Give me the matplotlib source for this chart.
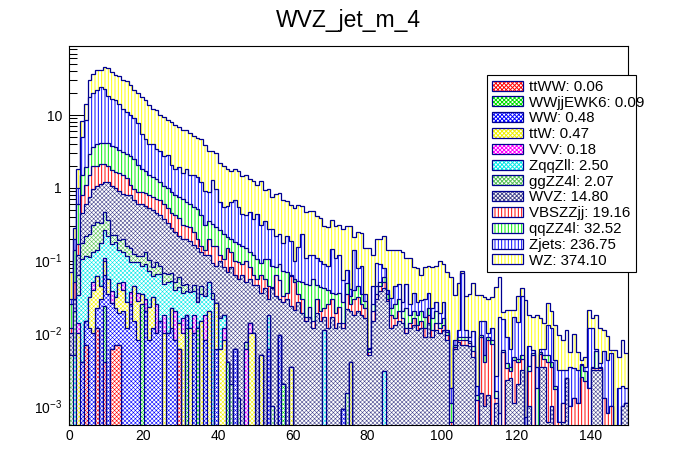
import numpy as np
import matplotlib
matplotlib.use("Agg")
import matplotlib.pyplot as plt
from matplotlib.patches import Rectangle
from matplotlib.ticker import FixedLocator, LogLocator, MultipleLocator, NullFormatter

plt.rcParams['font.family'] = ['Liberation Sans', 'DejaVu Sans']
plt.rcParams['mathtext.fontset'] = 'custom'
plt.rcParams['mathtext.rm'] = 'Liberation Sans'
plt.rcParams['mathtext.default'] = 'regular'

# 150 bins of width 1 between 0 and 150
n_bins = 150
x_edges = np.arange(0, n_bins + 1)

# processes, bottom of the stack first (same order as the legend)
names = ['ttWW', 'WWjjEWK6', 'WW', 'ttW', 'VVV', 'ZqqZll', 'ggZZ4l', 'WVZ',
         'VBSZZjj', 'qqZZ4l', 'Zjets', 'WZ']
yields = [0.06, 0.09, 0.48, 0.47, 0.18, 2.50, 2.07, 14.80, 19.16, 32.52, 236.75, 374.10]

# small samples, only the non-empty bins {bin: content}
ttWW = {4: 0.007, 7: 0.012, 9: 0.004, 11: 0.006, 12: 0.007, 13: 0.007, 29: 0.006}
WWjjEWK6 = {9: 0.02, 19: 0.025, 31: 0.012, 34: 0.012, 42: 0.004, 57: 0.002}
WW = {3: 0.004, 4: 0.008, 5: 0.012, 6: 0.01, 7: 0.01, 8: 0.03, 9: 0.04, 10: 0.035,
      11: 0.02, 12: 0.015, 13: 0.012, 14: 0.02, 15: 0.012, 16: 0.025, 17: 0.015,
      18: 0.008, 20: 0.02, 21: 0.008, 22: 0.012, 23: 0.01, 24: 0.015, 26: 0.01,
      27: 0.012, 28: 0.008, 31: 0.006, 33: 0.01, 36: 0.008, 39: 0.006, 44: 0.006,
      53: 0.006, 56: 0.0096, 73: 0.0009}
ttW = {2: 0.01, 5: 0.02, 6: 0.03, 7: 0.04, 8: 0.015, 9: 0.035, 10: 0.02, 12: 0.01,
       13: 0.03, 14: 0.02, 15: 0.015, 17: 0.03, 18: 0.02, 19: 0.01, 21: 0.015,
       22: 0.02, 25: 0.01, 27: 0.01, 29: 0.008, 30: 0.01, 32: 0.012, 35: 0.015,
       37: 0.02, 39: 0.02, 40: 0.006, 41: 0.008, 48: 0.01, 49: 0.01, 51: 0.005,
       59: 0.0035, 75: 0.004}
VVV = {2: 0.004, 6: 0.01, 9: 0.008, 11: 0.012, 14: 0.01, 16: 0.012, 18: 0.008,
       20: 0.01, 23: 0.015, 25: 0.008, 28: 0.012, 30: 0.006, 33: 0.008, 36: 0.01,
       41: 0.004, 47: 0.006, 48: 0.004}
ZqqZll = {1: 0.005, 2: 0.02, 3: 0.1, 4: 0.1, 5: 0.08, 6: 0.08, 7: 0.08, 8: 0.13,
          9: 0.16, 10: 0.16, 11: 0.13, 12: 0.15, 13: 0.09, 14: 0.08, 15: 0.09,
          16: 0.06, 17: 0.05, 18: 0.06, 19: 0.05, 20: 0.06, 21: 0.05, 22: 0.03,
          23: 0.04, 24: 0.05, 25: 0.03, 26: 0.04, 27: 0.03, 28: 0.02, 29: 0.03,
          30: 0.02, 31: 0.02, 32: 0.025, 33: 0.02, 34: 0.015, 35: 0.02, 36: 0.015,
          37: 0.03, 38: 0.03, 40: 0.01, 41: 0.006, 53: 0.012, 68: 0.011, 84: 0.003}
ggZZ4l = {0: 0.005, 1: 0.015, 2: 0.03, 3: 0.07, 4: 0.1, 5: 0.12, 6: 0.18, 7: 0.2,
          8: 0.15, 9: 0.2, 10: 0.15, 11: 0.06, 12: 0.04, 13: 0.05, 14: 0.07,
          15: 0.04, 16: 0.05, 17: 0.03, 18: 0.02, 19: 0.03, 20: 0.04, 21: 0.03,
          22: 0.02, 23: 0.03, 24: 0.02, 25: 0.02, 26: 0.015, 27: 0.015, 28: 0.01,
          29: 0.015, 30: 0.01, 31: 0.01, 33: 0.008, 35: 0.01, 38: 0.006, 43: 0.002,
          45: 0.0013, 47: 0.0017, 54: 0.001, 74: 0.0015}

# large samples, every bin
WVZ = [0.005, 0.01, 0.056, 0.28, 0.39, 0.52, 0.64, 0.71, 0.8, 0.73,
       0.84, 0.82, 0.78, 0.71, 0.62, 0.64, 0.65, 0.56, 0.49, 0.49,
       0.44, 0.43, 0.42, 0.36, 0.34, 0.31, 0.26, 0.21, 0.2, 0.16,
       0.15, 0.15, 0.15, 0.12, 0.12, 0.085, 0.087,
       0.07, 0.058, 0.059, 0.084, 0.063, 0.065, 0.079, 0.057, 0.054, 0.063,
       0.043, 0.041, 0.036, 0.046, 0.031, 0.042, 0.012, 0.041, 0.033, 0.02,
       0.025, 0.03, 0.02, 0.021, 0.027, 0.019, 0.015, 0.017, 0.012, 0.019,
       0.015, 0.006, 0.012, 0.017, 0.012, 0.014, 0.011,
       0.02, 0.016, 0.018, 0.02, 0.018, 0.016, 0.005, 0.015, 0.03, 0.038,
       0.039, 0.028, 0.012, 0.013, 0.015, 0.014, 0.01, 0.012, 0.013, 0.011,
       0.012, 0.009, 0.014, 0.009, 0.011, 0.01, 0.011, 0.008, 0, 0.006,
       0.0075, 0.007, 0.007, 0.0068, 0.0048, 0, 0.0015, 0.001, 0.0014, 0,
       0.0011, 0, 0, 0.0023, 0.0024, 0.0011, 0.002, 0.0031, 0, 0.001,
       0, 0, 0.0034, 0.0035, 0.0006, 0.001, 0, 0, 0.0006, 0.0024,
       0, 0, 0, 0, 0, 0, 0.0031, 0.0031, 0.0031, 0,
       0, 0, 0, 0, 0.001, 0.0011]
VBSZZjj = [0.002, 0.02, 0.05, 0.35, 0.5, 0.75, 1.05, 0.95, 0.97, 0.9,
           0.8, 0.7, 0.65, 0.7, 0.68, 0.55, 0.3, 0.27, 0.27, 0.27,
           0.28, 0.27, 0.25, 0.25, 0.26, 0.22, 0.2, 0.17, 0.17, 0.16,
           0.11, 0.1, 0.1, 0.08, 0.05, 0.03, 0.02,
           0.08, 0.066, 0.075, 0.02, 0.024, 0.081, 0.049, 0.037, 0.039, 0.027,
           0.049, 0.026, 0.017, 0.009, 0.027, 0.013, 0.015, 0.002, 0.03, 0.025,
           0.006, 0.006, 0.037, 0.029, 0.008, 0.011, 0.002, 0.006, 0.003, 0.011,
           0.005, 0.005, 0.013, 0.013, 0.007, 0.009, 0.002,
           0.013, 0.005, 0.012, 0.012, 0.007, 0.006, 0.0005, 0.005, 0.005, 0.007,
           0.008, 0.002, 0.006, 0.003, 0.005, 0.002, 0.002, 0.002, 0.003, 0.002,
           0.003, 0.003, 0.004, 0.002, 0.003, 0.002, 0.002, 0.0015, 0.0006, 0.0005,
           0.0005, 0.001, 0.001, 0.0005, 0.001, 0.0012, 0.0075, 0.003, 0.0066, 0.0072,
           0.0002, 0.0005, 0.0056, 0.001, 0.0006, 0.0032, 0.002, 0.0014, 0, 0.002,
           0.005, 0, 0.0018, 0.001, 0.0034, 0.0025, 0.0017, 0.0006, 0.0005, 0,
           0.001, 0.0013, 0.0011, 0.0025, 0.0022, 0.0018, 0.0002, 0.0002, 0.0002, 0.0013,
           0.0008, 0.001, 0, 0, 0, 0]
qqZZ4l = [0.013, 0.09, 0.43, 0.7, 0.8, 1.4, 1.6, 2.0, 2.0, 2.0,
          2.1, 2.05, 1.95, 1.7, 1.6, 1.55, 1.6, 1.55, 1.2, 0.93,
          0.85, 0.7, 0.65, 0.6, 0.52, 0.47, 0.48, 0.42, 0.38, 0.36,
          0.39, 0.34, 0.31, 0.3, 0.32, 0.26, 0.17,
          0.15, 0.16, 0.13, 0.14, 0.125, 0.06, 0.07, 0.08, 0.076, 0.07,
          0.05, 0.049, 0.057, 0.05, 0.031, 0.05, 0.06, 0.041, 0.018, 0.035,
          0.04, 0.033, 0.003, 0.005, 0.018, 0.021, 0.031, 0.023, 0.04, 0.016,
          0.024, 0.02, 0.015, 0.006, 0.016, 0.013, 0.013,
          0.015, 0.008, 0.01, 0.013, 0.01, 0.006, 0.0005, 0.005, 0.01, 0.005,
          0.01, 0.005, 0.004, 0.009, 0.01, 0.004, 0.01, 0.004, 0.004, 0.005,
          0.005, 0.005, 0.004, 0.005, 0.006, 0.002, 0.003, 0.001, 0.0005, 0.0005,
          0.001, 0.001, 0.001, 0.0005, 0.001, 0.0002, 0.0005, 0.001, 0.001, 0.0008,
          0.0003, 0.0003, 0.0003, 0.0006, 0.0005, 0.0005, 0.0005, 0.0005, 0, 0.0006,
          0.0004, 0.0018, 0.0003, 0.0005, 0.001, 0.0005, 0.0002, 0, 0, 0,
          0, 0, 0, 0.0012, 0.0008, 0, 0.0002, 0.0025, 0.0001, 0,
          0, 0, 0, 0, 0, 0]
Zjets = [0.005, 0.06, 0.4, 3.5, 6.6, 15, 16.4, 18, 20, 19,
         14, 13, 12.4, 10.7, 8.9, 8.1, 7.3, 6.5, 5.7, 3.7,
         3.0, 2.5, 2.6, 2.1, 2.0, 1.7, 1.8, 1.2, 1.0, 1.2,
         0.9, 1.2, 0.9, 0.95, 0.9, 0.8, 0.6,
         0.52, 0.98, 0.66, 0.37, 0.32, 0.35, 0.44, 0.49, 0.37, 0.28,
         0.27, 0.33, 0.25, 0.33, 0.21, 0.25, 0.17, 0.19, 0.14, 0.14,
         0.1, 0.15, 0.12, 0.045, 0.1, 0.18, 0.062, 0.074, 0.065, 0.064,
         0.056, 0.049, 0.043, 0.11, 0.075, 0.084, 0.028,
         0.025, 0.008, 0.1, 0.035, 0.05, 0.007, 0.0003, 0.02, 0.049, 0.04,
         0.02, 0.005, 0.009, 0.02, 0.017, 0.007, 0.026, 0.007, 0.016, 0.009,
         0.009, 0.013, 0.014, 0.006, 0.007, 0.005, 0.011, 0.0005, 0.0007, 0.001,
         0.002, 0.059, 0.002, 0.0012, 0.004, 0.0005, 0.0055, 0.01, 0.001, 0.004,
         0.001, 0.016, 0.01, 0.005, 0.0025, 0.012, 0.01, 0.028, 0.0007, 0.003,
         0.0005, 0.0016, 0.0005, 0.001, 0.008, 0.008, 0.0024, 0.0025, 0.002, 0.0007,
         0.0024, 0.002, 0.002, 0.0001, 0.0005, 0.0102, 0.0085, 0.0002, 0.0005, 0.0045,
         0.0035, 0.0043, 0, 0.0018, 0.0009, 0.0007]
WZ = [0.04, 0.08, 0.8, 3.3, 5.5, 12, 17, 20, 18, 22,
      26, 22, 20, 20, 18, 18, 16, 13, 12.2, 12.3,
      11.3, 9.6, 8.3, 8.3, 6.8, 6.7, 5.7, 6.0, 5.5, 5.0,
      4.6, 4.4, 4.1, 3.6, 3.4, 3.4, 3.0,
      2.3, 1.9, 2.05, 1.57, 1.45, 1.28, 1.06, 1.17, 1.16, 1.01,
      1.06, 0.86, 0.88, 0.66, 0.95, 0.58, 0.7, 0.47, 0.6, 0.61,
      0.5, 0.45, 0.39, 0.42, 0.43, 0.34, 0.35, 0.36, 0.36, 0.3,
      0.29, 0.21, 0.21, 0.22, 0.19, 0.19, 0.22,
      0.225, 0.26, 0.07, 0.17, 0.155, 0.115, 0.144, 0.075, 0.106, 0.11,
      0.14, 0.1, 0.11, 0.095, 0.093, 0.103, 0.062, 0.085, 0.045, 0.051,
      0.034, 0.051, 0.049, 0.06, 0.058, 0.081, 0.063, 0.059, 0.058, 0.026,
      0.038, 0.004, 0.022, 0.026, 0.038, 0.032, 0.019, 0.017, 0.02, 0.02,
      0.041, 0.043, 0.004, 0.012, 0.015, 0.004, 0.018, 0.009, 0.028, 0.0114,
      0.011, 0.0146, 0.01, 0.008, 0.013, 0.008, 0.0087, 0.0064, 0.0051, 0.0079,
      0.0022, 0.0066, 0.0025, 0.0005, 0.0013, 0.009, 0.004, 0.012, 0.0081, 0.0052,
      0.0048, 0.0006, 0.0059, 0.003, 0.0063, 0.0036]

# ROOT-like fill style for each process
fill_colors = ['#ff0000', '#00e000', '#0000ff', '#f0f000', '#ff00ff', '#00e8e8',
               '#55c055', '#46468e', '#ff0000', '#00ee00', '#0000ff', '#ffff00']
hatches = ['xxxxxxxx'] * 8 + ['|||||'] * 4
hatch_lw = [0.4] * 8 + [0.68] * 4
line_color = '#000090'


def to_bins(sparse):
    """Turn a {bin: content} dict into a full array"""
    arr = np.zeros(n_bins)
    for b, v in sparse.items():
        arr[b] = v
    return arr


def build_stack():
    layers = [to_bins(ttWW), to_bins(WWjjEWK6), to_bins(WW), to_bins(ttW),
              to_bins(VVV), to_bins(ZqqZll), to_bins(ggZZ4l),
              np.array(WVZ), np.array(VBSZZjj), np.array(qqZZ4l),
              np.array(Zjets), np.array(WZ)]
    return np.cumsum(np.vstack(layers), axis=0)


def hatched(artist, k):
    # hatch width is per artist in recent matplotlib
    if hasattr(artist, 'set_hatch_linewidth'):
        artist.set_hatch_linewidth(hatch_lw[k])
    return artist


def draw():
    cum = build_stack()
    ymin, ymax = 5.5e-4, 89
    floor = 1e-6

    fig = plt.figure(figsize=(6.96, 4.72), dpi=100)
    ax = fig.add_axes([69 / 696, 1 - 425 / 472, 559 / 696, 379 / 472])
    ax.set_yscale('log')

    # draw from the top of the stack down, like THStack does
    n = len(names)
    for k in range(n - 1, -1, -1):
        plt.rcParams['hatch.linewidth'] = hatch_lw[k]
        vals = np.where(cum[k] > 0, cum[k], floor)
        z = 2 + (n - k)
        st = ax.stairs(vals, x_edges, baseline=floor, fill=True, facecolor='white',
                       edgecolor=fill_colors[k], hatch=hatches[k], linewidth=0, zorder=z)
        hatched(st, k)
        ax.stairs(vals, x_edges, baseline=floor, fill=False, edgecolor=line_color,
                  linewidth=0.9, zorder=z + 0.5)

    ax.set_xlim(0, 150)
    ax.set_ylim(ymin, ymax)

    ax.xaxis.set_major_locator(MultipleLocator(20))
    ax.xaxis.set_minor_locator(MultipleLocator(5))
    ax.yaxis.set_major_locator(FixedLocator([1e-3, 1e-2, 1e-1, 1, 10]))
    ax.yaxis.set_minor_locator(LogLocator(base=10, subs=np.arange(2, 10)))
    ax.yaxis.set_minor_formatter(NullFormatter())
    ax.set_yticklabels([r'$10^{-3}$', r'$10^{-2}$', r'$10^{-1}$', '1', '10'])

    ax.tick_params(which='both', direction='in', top=False, right=False, width=0.75,
                   labelsize=10, zorder=30)
    ax.tick_params(axis='x', which='major', length=8.2, pad=3)
    ax.tick_params(axis='x', which='minor', length=4.1)
    ax.tick_params(axis='y', which='major', length=12.1, pad=5)
    ax.tick_params(axis='y', which='minor', length=6.0)
    for sp in ax.spines.values():
        sp.set_linewidth(0.8)
        sp.set_zorder(30)

    # legend: hatch swatch with a dark outline on top
    handles = []
    for k in range(n):
        plt.rcParams['hatch.linewidth'] = hatch_lw[k]
        fill = Rectangle((0, 0), 1, 1, facecolor='white', edgecolor=fill_colors[k],
                         hatch=hatches[k], linewidth=0)
        hatched(fill, k)
        edge = Rectangle((0, 0), 1, 1, fill=False, edgecolor=line_color, linewidth=0.9)
        handles.append((fill, edge))
    labels = [f'{nm}: {y:.2f}' for nm, y in zip(names, yields)]
    leg = ax.legend(handles, labels, loc='upper left',
                    bbox_to_anchor=(487 / 696, 189 / 472, 149 / 696, 208 / 472),
                    bbox_transform=fig.transFigure, mode='expand', borderaxespad=0,
                    fontsize=10.8, handlelength=2.1, handleheight=0.65,
                    handletextpad=0.4, labelspacing=0.12, borderpad=0.32,
                    fancybox=False, framealpha=1, edgecolor='black')
    leg.get_frame().set_linewidth(0.8)
    leg.set_zorder(40)

    fig.text(0.5, 1 - 27 / 472, 'WVZ_jet_m_4', ha='center', va='baseline', fontsize=16.5)

    fig.savefig('out.png', dpi=100)


if __name__ == '__main__':
    draw()
